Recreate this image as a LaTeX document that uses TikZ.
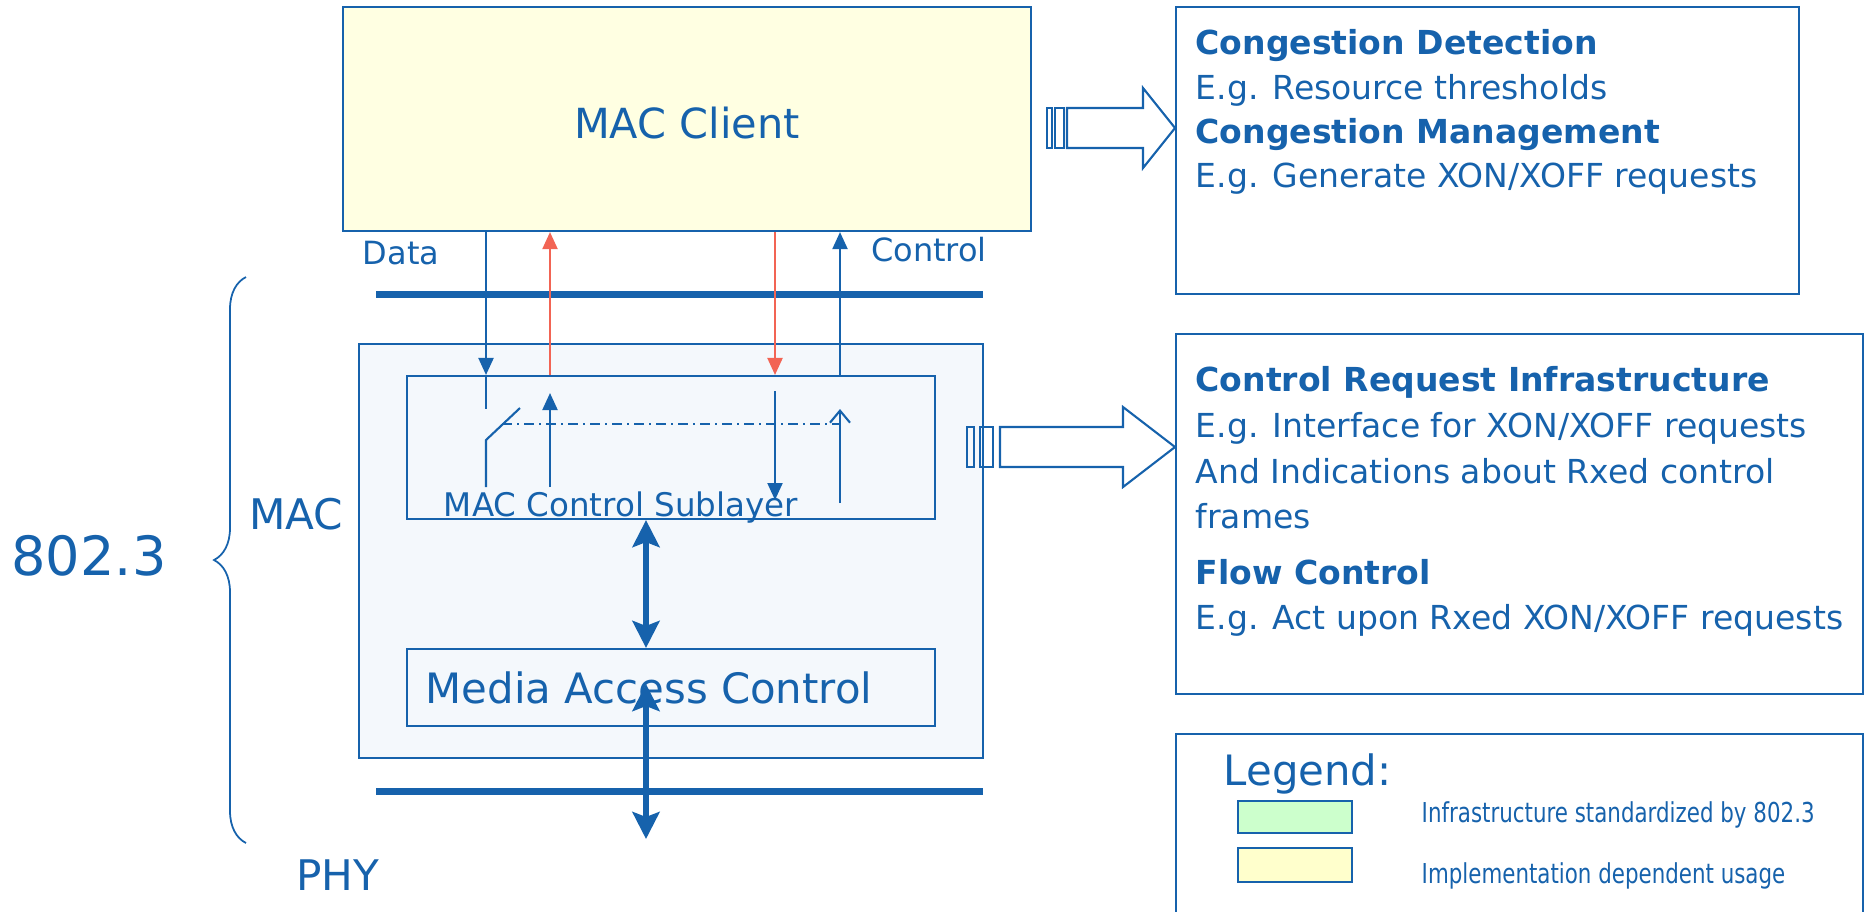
\documentclass[tikz,border=0pt]{standalone}
\usepackage{fontspec}
\setmainfont{DejaVu Sans}
\newfontfamily\narrowfont[FakeStretch=0.78]{DejaVu Sans}
\usetikzlibrary{arrows.meta,positioning,decorations.pathreplacing,calc}
\definecolor{ieeeblue}{RGB}{22,98,172}
\definecolor{ieeered}{RGB}{242,100,84}
\definecolor{clientfill}{RGB}{255,255,226}
\definecolor{macfill}{RGB}{244,248,252}
\definecolor{stdgreen}{RGB}{204,255,204}
\definecolor{impyellow}{RGB}{255,255,204}
\tikzset{
    block/.style = {draw=ieeeblue, rectangle, line width=0.6pt, inner sep=0pt},
    txt/.style = {text=ieeeblue, inner sep=0pt},
    wire/.style = {draw=ieeeblue, line width=0.6pt},
    arrow/.style = {wire, color=ieeeblue, -{Triangle[length=1.7mm,width=1.5mm]}},
    redarrow/.style = {arrow, draw=ieeered, color=ieeered},
    barbarrow/.style = {wire, -{Straight Barb[length=1.2mm,width=2mm]}},
    bus/.style = {draw=ieeeblue, line width=2pt},
    fatarrow/.style = {draw=ieeeblue, color=ieeeblue, line width=1.8pt,
        {Stealth[length=2.7mm,width=2.7mm,inset=0.5mm]}-{Stealth[length=2.7mm,width=2.7mm,inset=0.5mm]}},
    hollow/.style = {draw=ieeeblue, line width=0.6pt, line join=miter}
}

\begin{document}
\begin{tikzpicture}
    \useasboundingbox (0,0) rectangle (18.66,-9.11);
    % client and MAC boxes
    \node [block, fill=clientfill, minimum width=6.88cm, minimum height=2.24cm] (client) at (6.87,-1.19) {};
    \node [txt, font=\fontsize{11.8}{14}\selectfont] (clienttxt) at (6.87,-1.23) {MAC Client};
    \node [block, fill=macfill, minimum width=6.24cm, minimum height=4.14cm] (mac) at (6.71,-5.51) {};
    \node [block, fill=macfill, minimum width=5.28cm, minimum height=1.43cm, above of=mac, node distance=1.035cm] (sub) {};
    \node [block, fill=macfill, minimum width=5.28cm, minimum height=0.77cm, below of=sub, node distance=2.40cm] (media) {};
    \node [txt, font=\fontsize{11.9}{14}\selectfont, right=0.19cm of media.west] (mediatxt) {Media Access Control};
    \node [txt, font=\fontsize{9.25}{11}\selectfont, anchor=base] (subtxt) at (6.21,-5.16) {MAC Control Sublayer};
    % service interfaces
    \coordinate (bus1w) at (3.76,-2.94);
    \coordinate (bus1e) at (9.83,-2.94);
    \coordinate (bus2w) at (3.76,-7.91);
    \coordinate (bus2e) at (9.83,-7.91);
    \draw [bus] (bus1w) -- (bus1e);
    \draw [bus] (bus2w) -- (bus2e);
    \node [txt, font=\fontsize{9.1}{11}\selectfont] (datatxt) at (4.01,-2.53) {Data};
    \node [txt, font=\fontsize{9.1}{11}\selectfont] (ctrltxt) at (9.29,-2.50) {Control};
    % data and control paths
    \coordinate (cdata) at (4.86,0);
    \coordinate (cfbup) at (5.50,0);
    \coordinate (cfbdn) at (7.75,0);
    \coordinate (cctrl) at (8.40,0);
    \draw [arrow] (cdata |- client.south) -- (cdata |- sub.north);
    \draw [redarrow] (cfbup |- sub.north) -- (cfbup |- client.south);
    \draw [redarrow] (cfbdn |- client.south) -- (cfbdn |- sub.north);
    \draw [arrow] (cctrl |- sub.north) -- (cctrl |- client.south);
    % switch inside the sublayer
    \coordinate (swtop) at (4.86,-4.09);
    \coordinate (swblade) at (5.20,-4.08);
    \coordinate (swpivot) at (4.86,-4.40);
    \coordinate (swbot) at (4.86,-4.87);
    \coordinate (swlink) at (5.02,-4.24);
    \coordinate (ctlink) at (8.39,-4.24);
    \draw [wire] (cdata |- sub.north) -- (swtop);
    \draw [wire] (swblade) -- (swpivot) -- (swbot);
    \draw [wire, dash pattern=on 1mm off 0.5mm on 0.2mm off 0.5mm] (swlink) -- (ctlink);
    \draw [arrow] (cfbup |- swbot) -- (5.50,-3.93);
    \draw [arrow] (7.75,-3.91) -- (7.75,-5.00);
    \draw [barbarrow] (8.40,-5.03) -- (8.40,-4.09);
    % MAC to PHY
    \coordinate (cmid) at (6.46,0);
    \coordinate (phytop) at (6.46,-6.84);
    \coordinate (phybot) at (6.46,-8.39);
    \draw [fatarrow] (cmid |- sub.south) -- (cmid |- media.north);
    \draw [fatarrow] (phytop) -- (phybot);
    % layer labels
    \node [txt, font=\fontsize{12}{14}\selectfont] (mactxt) at (2.96,-5.14) {MAC};
    \node [txt, font=\fontsize{12}{14}\selectfont] (phytxt) at (3.38,-8.75) {PHY};
    \node [txt, font=\fontsize{15.4}{18}\selectfont] (ieee) at (0.89,-5.56) {802.3};
    \coordinate (bracebot) at (2.46,-8.43);
    \coordinate (bracetop) at (2.46,-2.77);
    \draw [wire, line width=0.5pt, decorate, decoration={brace, amplitude=0.32cm}] (bracebot) -- (bracetop);
    % notes on the right
    \node [block, minimum width=6.23cm, minimum height=2.87cm] (cong) at (14.875,-1.505) {};
    \node [txt, align=left, font=\fontsize{9.4}{12.6}\selectfont, below right=0.23cm and 0.20cm of cong.north west] (congtxt) {\textbf{Congestion Detection}\\E.g. Resource thresholds\\\textbf{Congestion Management}\\E.g. Generate XON/XOFF requests};
    \node [block, minimum width=6.87cm, minimum height=3.60cm] (ctrlreq) at (15.195,-5.14) {};
    \node [txt, align=left, font=\fontsize{9.4}{13}\selectfont, below right=0.33cm and 0.20cm of ctrlreq.north west] (ctrlreqtxt) {\textbf{Control Request Infrastructure}\\E.g. Interface for XON/XOFF requests\\And Indications about Rxed control\\frames\\[2.7pt]\textbf{Flow Control}\\E.g. Act upon Rxed XON/XOFF requests};
    % hollow arrows
    \draw [hollow] (10.47,-1.08) rectangle (10.52,-1.48);
    \draw [hollow] (10.55,-1.08) rectangle (10.64,-1.48);
    \draw [hollow] (10.67,-1.08) -- (11.43,-1.08) -- (11.43,-0.88) -- (11.75,-1.28) -- (11.43,-1.68) -- (11.43,-1.48) -- (10.67,-1.48) -- cycle;
    \draw [hollow] (9.67,-4.27) rectangle (9.74,-4.67);
    \draw [hollow] (9.80,-4.27) rectangle (9.93,-4.67);
    \draw [hollow] (10.00,-4.27) -- (11.23,-4.27) -- (11.23,-4.07) -- (11.75,-4.47) -- (11.23,-4.87) -- (11.23,-4.67) -- (10.00,-4.67) -- cycle;
    % legend
    \node [block, minimum width=6.87cm, minimum height=1.96cm] (legend) at (15.195,-8.32) {};
    \node [txt, font=\fontsize{11.9}{14}\selectfont, anchor=base west] (legendtxt) at (12.23,-7.85) {Legend:};
    \node [block, fill=stdgreen, minimum width=1.14cm, minimum height=0.32cm] (stdbox) at (12.95,-8.17) {};
    \node [block, fill=impyellow, minimum width=1.14cm, minimum height=0.34cm] (impbox) at (12.95,-8.65) {};
    \node [txt, font=\narrowfont\fontsize{7.8}{9}\selectfont, anchor=base west] (stdtxt) at (14.21,-8.22) {Infrastructure standardized by 802.3};
    \node [txt, font=\narrowfont\fontsize{7.8}{9}\selectfont, anchor=base west] (imptxt) at (14.21,-8.83) {Implementation dependent usage};
\end{tikzpicture}
\end{document}
